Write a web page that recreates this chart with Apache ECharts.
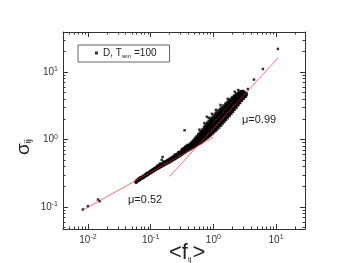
<!DOCTYPE html>
<html><head><meta charset="utf-8">
<script src="https://cdn.jsdelivr.net/npm/echarts@6/dist/echarts.min.js"></script>
<style>html,body{margin:0;padding:0;background:#fff;}#c{width:354px;height:263px;}</style>
</head><body><div id="c"></div>
<script>
// ---- data ----
const xRange = [0.004, 29];
const yRange = [0.0472, 39.2];
const xTickExps = [-2, -1, 0, 1];
const yTickExps = [-1, 0, 1];
const legendLabel = 'D, T{sub|wm} =100';
const fitLow = [[0.0083, 0.090], [1.0, 1.08]];      // mu = 0.52
const fitHigh = [[0.2, 0.283], [10.7, 16.1]];       // mu = 0.99
const fitLowText = 'μ=0.52';
const fitHighText = 'μ=0.99';
// lower (narrow) part of the cloud: [x, [y values]]
const cloudLow = [
  [0.057,[0.235]],[0.059,[0.245,0.228]],[0.061,[0.25,0.238]],[0.063,[0.243,0.262]],
  [0.065,[0.255,0.248]],[0.067,[0.262,0.25,0.27]],[0.069,[0.258,0.275]],[0.071,[0.268,0.262]],
  [0.073,[0.28,0.266,0.274]],[0.075,[0.272,0.285]],[0.077,[0.279,0.292,0.27]],[0.079,[0.288,0.281]],
  [0.081,[0.295,0.284,0.30]],[0.083,[0.29,0.302]],[0.085,[0.298,0.288,0.31]],[0.087,[0.303,0.315]],
  [0.089,[0.308,0.297,0.32]],[0.091,[0.312,0.303]],[0.093,[0.318,0.307,0.326]],[0.096,[0.322,0.313,0.333]],
  [0.099,[0.327,0.318,0.34]],[0.102,[0.333,0.345,0.325]],[0.105,[0.34,0.33,0.352]],[0.108,[0.345,0.358,0.336]],
  [0.111,[0.35,0.34,0.365]],[0.114,[0.356,0.37,0.347]],[0.117,[0.362,0.352,0.377]],[0.120,[0.367,0.384,0.358]],
  [0.124,[0.373,0.362,0.39]],[0.128,[0.38,0.368,0.398,0.41]],[0.132,[0.386,0.374,0.404]],[0.136,[0.392,0.38,0.412]],
  [0.140,[0.398,0.386,0.42,0.44]],[0.145,[0.405,0.392,0.428]],[0.150,[0.412,0.40,0.437,0.50]],
  [0.155,[0.42,0.406,0.445,0.55]],[0.160,[0.427,0.412,0.453,0.47]],[0.165,[0.434,0.42,0.462]],
  [0.170,[0.44,0.427,0.47,0.455]],[0.176,[0.448,0.434,0.478]],[0.182,[0.456,0.44,0.488,0.472]],
  [0.188,[0.464,0.448,0.497]],[0.194,[0.472,0.455,0.506,0.488]],[0.200,[0.48,0.463,0.515]],
  [0.207,[0.49,0.472,0.525,0.505]],[0.214,[0.498,0.48,0.535]],[0.221,[0.507,0.49,0.545,0.525]],
  [0.228,[0.516,0.498,0.556]],[0.236,[0.526,0.507,0.567,0.545]],[0.244,[0.536,0.516,0.578,0.60]],
  [0.252,[0.546,0.526,0.59,0.565]],[0.260,[0.557,0.535,0.602]],[0.268,[0.567,0.545,0.614,0.59]],
  [0.277,[0.578,0.555,0.627,0.65]],[0.286,[0.59,0.566,0.64,0.612]],[0.295,[0.602,0.577,0.654]],
  [0.305,[0.614,0.588,0.668,0.638]],[0.315,[0.627,0.60,0.683,0.72]],[0.325,[0.64,0.612,0.698,0.665]],
  [0.336,[0.654,0.625,0.714,0.75]],[0.347,[0.668,0.638,0.73,0.695]],[0.358,[0.682,0.65,0.747,0.79]],
  [0.370,[0.697,0.664,0.765,0.728]],[0.382,[0.712,0.678,0.783,0.83]],[0.395,[0.728,0.692,0.80,0.76]]
];
// upper (wide) part of the cloud
const cloudHigh = [
  [0.41,[0.70,0.74,0.785,0.83]],[0.425,[0.73,0.78,0.825,0.87,0.755]],[0.44,[0.72,0.77,0.82,0.87]],
  [0.455,[0.76,0.815,0.87,0.925,0.79]],[0.47,[0.75,0.81,0.865,0.925]],[0.485,[0.795,0.86,0.92,0.985,0.83]],
  [0.50,[0.78,0.85,0.92,0.995]],[0.515,[0.83,0.905,0.985,1.06,0.87]],[0.53,[0.805,0.885,0.965,1.05]],
  [0.545,[0.86,0.95,1.04,1.125,0.90]],[0.56,[0.835,0.925,1.02,1.11]],[0.575,[0.90,0.995,1.10,1.19,0.945]],
  [0.59,[0.86,0.965,1.07,1.175]],[0.605,[0.93,1.04,1.15,1.26,0.985]],[0.62,[0.885,1.005,1.12,1.24]],
  [0.635,[0.96,1.085,1.21,1.33,1.02]],[0.65,[0.91,1.04,1.17,1.30]],[0.67,[1.00,1.14,1.28,1.41,1.07]],
  [0.69,[0.95,1.10,1.25,1.40]],[0.71,[1.05,1.21,1.38,1.54,1.13]],[0.73,[0.99,1.16,1.33,1.51]],
  [0.75,[1.10,1.29,1.47,1.65,1.20]],[0.77,[1.03,1.23,1.42,1.62]],[0.79,[1.15,1.36,1.57,1.77,1.25]],
  [0.815,[1.07,1.29,1.50,1.72]],[0.84,[1.20,1.43,1.67,1.89,1.31]],[0.865,[1.11,1.35,1.59,1.83]],
  [0.89,[1.26,1.51,1.76,2.00,1.38]],[0.915,[1.16,1.42,1.68,1.94]],[0.94,[1.32,1.59,1.86,2.12,1.45]],
  [0.97,[1.21,1.50,1.78,2.06]],[1.00,[1.39,1.69,1.98,2.27,1.53]],[1.03,[1.28,1.59,1.89,2.19]],
  [1.06,[1.46,1.78,2.10,2.41,1.62]],[1.09,[1.34,1.67,2.00,2.32]],[1.12,[1.53,1.87,2.21,2.55,1.70]],
  [1.16,[1.41,1.76,2.11,2.46]],[1.20,[1.62,1.99,2.35,2.70,1.80]],[1.24,[1.50,1.87,2.23,2.60]],
  [1.28,[1.73,2.11,2.49,2.86,1.92]],[1.32,[1.60,1.99,2.37,2.76]],[1.36,[1.84,2.24,2.63,3.02,2.04]],
  [1.40,[1.70,2.10,2.50,2.90]],[1.45,[1.96,2.38,2.79,3.20,2.17]],[1.50,[1.82,2.24,2.66,3.08]],
  [1.55,[2.10,2.54,2.97,3.39,2.32]],[1.60,[1.95,2.39,2.83,3.27]],[1.65,[2.23,2.69,3.14,3.58,2.46]],
  [1.70,[2.08,2.54,3.00,3.46]],[1.76,[2.38,2.86,3.34,3.80,2.62]],[1.82,[2.23,2.71,3.19,3.67]],
  [1.88,[2.55,3.05,3.54,4.02,2.80]],[1.94,[2.40,2.90,3.40,3.90]],[2.00,[2.75,3.26,3.77,4.27,3.00]],
  [2.07,[2.57,3.08,3.59,4.10]],[2.14,[2.92,3.44,3.96,4.47,3.18]],[2.21,[2.76,3.28,3.80,4.31]],
  [2.28,[3.12,3.65,4.17,4.68,3.38]],[2.36,[2.97,3.49,4.00,4.52]],[2.44,[3.35,3.87,4.38,4.88,3.60]],
  [2.52,[3.22,3.72,4.22,4.72]],[2.60,[3.60,4.10,4.60,5.08,3.85]],[2.69,[3.48,3.96,4.44,4.92]],
  [2.78,[3.85,4.30,4.76,5.20,4.05]],[2.88,[3.76,4.18,4.60,5.02]],[2.98,[4.10,4.50,4.90,5.25]],
  [3.08,[4.05,4.40,4.75,5.10]],[3.18,[4.35,4.65,4.95]],[3.28,[4.30,4.60,4.90]],[3.40,[4.55,4.80]]
];
// dense core of the upper part
const cloudCore = [
  [0.4175,[0.72,0.76,0.80]],[0.4475,[0.74,0.79,0.845]],[0.4625,[0.755,0.81,0.88]],[0.4775,[0.77,0.83,0.90]],
  [0.4925,[0.785,0.85,0.93]],[0.5075,[0.80,0.87,0.95]],[0.5225,[0.815,0.89,0.98]],[0.5375,[0.83,0.91,1.00]],
  [0.5525,[0.845,0.935,1.03]],[0.5675,[0.86,0.955,1.06]],[0.5825,[0.875,0.98,1.09]],[0.5975,[0.89,1.00,1.12]],
  [0.6125,[0.905,1.02,1.15]],[0.6275,[0.92,1.045,1.18]],[0.6425,[0.935,1.07,1.21]],[0.66,[0.95,1.09,1.24]],
  [0.68,[0.97,1.12,1.28]],[0.70,[0.99,1.15,1.32]],[0.72,[1.01,1.18,1.36]],[0.74,[1.03,1.21,1.40]],
  [0.76,[1.05,1.24,1.44]],[0.78,[1.07,1.27,1.48]],[0.80,[1.09,1.30,1.52]],[0.83,[1.12,1.35,1.58]],
  [0.855,[1.15,1.39,1.63]],[0.88,[1.18,1.43,1.69]],[0.905,[1.21,1.47,1.74]],[0.93,[1.24,1.52,1.80]],
  [0.955,[1.27,1.56,1.86]],[0.985,[1.31,1.61,1.92]],[1.015,[1.35,1.66,1.98]],[1.045,[1.39,1.71,2.04]],
  [1.075,[1.43,1.76,2.10]],[1.105,[1.47,1.81,2.16]],[1.14,[1.51,1.87,2.23]],[1.18,[1.56,1.93,2.31]],
  [1.22,[1.61,2.00,2.39]],[1.26,[1.66,2.06,2.47]],[1.30,[1.71,2.13,2.55]],[1.34,[1.76,2.19,2.63]],
  [1.38,[1.81,2.26,2.71]],[1.425,[1.87,2.33,2.80]],[1.475,[1.93,2.41,2.90]],[1.525,[2.00,2.49,3.00]],
  [1.575,[2.07,2.57,3.10]],[1.625,[2.14,2.66,3.20]],[1.675,[2.21,2.75,3.30]],[1.73,[2.29,2.84,3.40]],
  [1.79,[2.37,2.94,3.52]],[1.85,[2.46,3.04,3.64]],[1.91,[2.55,3.15,3.76]],[1.97,[2.65,3.26,3.88]],
  [2.035,[2.75,3.37,4.00]],[2.105,[2.86,3.49,4.12]],[2.175,[2.97,3.61,4.24]],[2.245,[3.08,3.73,4.36]],
  [2.32,[3.20,3.85,4.48]],[2.40,[3.33,3.98,4.60]],[2.48,[3.46,4.10,4.72]],[2.56,[3.60,4.23,4.84]],
  [2.645,[3.74,4.36,4.95]],[2.735,[3.88,4.48,5.05]],[2.83,[4.00,4.58,5.12]],[2.93,[4.15,4.68,5.15]],
  [3.03,[4.30,4.80]],[3.13,[4.45,4.90]],[3.23,[4.60]]
];
const outliers = [[0.0083,0.092],[0.010,0.103],[0.0145,0.129],[0.0154,0.122],
  [0.348,1.37],[0.79,2.17],[0.60,1.40],[0.72,1.75],[0.85,2.10],[0.95,2.40],[1.10,2.75],
  [1.30,3.25],[1.70,4.00],[2.20,5.10],[2.50,5.40],[3.55,5.60],
  [4.45,7.74],[6.18,11.1],[10.7,22.0]];

// ---- build ----
const L = Math.log10;
const pts = [];
cloudLow.concat(cloudHigh, cloudCore).forEach(([x, ys]) => ys.forEach(y => pts.push([L(x), L(y)])));
outliers.forEach(([x, y]) => pts.push([L(x), L(y)]));
const line = d => d.map(([x, y]) => [L(x), L(y)]);

function minorVals(r) {
  const out = [];
  for (let n = -3; n <= 2; n++) for (let k = 2; k <= 9; k++) {
    const v = n + L(k);
    if (v > L(r[0]) && v < L(r[1])) out.push(v);
  }
  return out;
}
const FF = 'Arial, Liberation Sans, sans-serif';
const rich = { b: { fontSize: 10, color: '#333', fontFamily: FF },
               s: { fontSize: 7, color: '#333', fontFamily: FF, verticalAlign: 'top', padding: [0, 0, 5, 0] } };
const fmt = v => '{b|10}{s|' + Math.round(v) + '}';
const lineStyle = { color: '#333', width: 1 };

function axes(dim, r, exps) {
  const pos = dim === 'x' ? ['bottom', 'top'] : ['left', 'right'];
  const base = { type: 'value', min: L(r[0]), max: L(r[1]), splitLine: { show: false }, gridIndex: 0 };
  return [
    Object.assign({}, base, { position: pos[0], axisLine: { show: true, onZero: false, lineStyle },
      axisTick: { show: true, inside: true, length: 5, lineStyle, customValues: exps },
      axisLabel: { show: true, customValues: exps, formatter: fmt, rich, margin: 5 } }),
    Object.assign({}, base, { position: pos[0], axisLine: { show: false, onZero: false },
      axisTick: { show: true, inside: true, length: 2.5, lineStyle, customValues: minorVals(r) },
      axisLabel: { show: false } }),
    Object.assign({}, base, { position: pos[1], axisLine: { show: true, onZero: false, lineStyle },
      axisTick: { show: true, inside: true, length: 5, lineStyle, customValues: exps },
      axisLabel: { show: false } }),
    Object.assign({}, base, { position: pos[1], axisLine: { show: false, onZero: false },
      axisTick: { show: true, inside: true, length: 2.5, lineStyle, customValues: minorVals(r) },
      axisLabel: { show: false } })
  ];
}

const chart = echarts.init(document.getElementById('c'), null, { renderer: 'canvas' });
chart.setOption({
  animation: false,
  backgroundColor: '#fff',
  grid: { left: 63, right: 49, top: 32, bottom: 34, containLabel: false },
  xAxis: axes('x', xRange, xTickExps),
  yAxis: axes('y', yRange, yTickExps),
  legend: {
    left: 78, top: 45, orient: 'horizontal',
    data: [{ name: 'D', icon: 'rect' }],
    itemWidth: 3, itemHeight: 3, itemGap: 5,
    borderColor: '#666', borderWidth: 1, borderRadius: 0,
    padding: [3, 13, 3, 17],
    formatter: () => legendLabel,
    textStyle: { fontSize: 10, color: '#222', fontFamily: FF,
      rich: { sub: { fontSize: 6, color: '#222', verticalAlign: 'bottom', padding: [6, 0, 0, 0] } } }
  },
  series: [
    { name: 'D', type: 'scatter', symbol: 'rect', symbolSize: 2.5, itemStyle: { color: '#000' },
      data: pts, xAxisIndex: 0, yAxisIndex: 0, z: 2 },
    { name: 'fitLow', type: 'line', data: line(fitLow), symbol: 'none',
      lineStyle: { color: '#ff2020', width: 0.8, opacity: 0.8 }, z: 3 },
    { name: 'fitHigh', type: 'line', data: line(fitHigh), symbol: 'none',
      lineStyle: { color: '#ff2020', width: 0.8, opacity: 0.8 }, z: 3 }
  ],
  graphic: [
    { type: 'text', left: 242, top: 114, style: { text: fitHighText, fontSize: 11, fill: '#222', fontFamily: FF } },
    { type: 'text', left: 128, top: 194, style: { text: fitLowText, fontSize: 11, fill: '#222', fontFamily: FF } },
    { type: 'text', left: 169, top: 242, style: { text: '<f{sub|ij}{g|>}', fontSize: 22, fill: '#222', fontFamily: FF,
        rich: { sub: { fontSize: 8, fill: '#222', fontFamily: FF, verticalAlign: 'bottom', padding: [12, 0, 0, 0] },
                g: { fontSize: 22, fill: '#222', fontFamily: FF, padding: [0, 0, 0, 1] } } } },
    { type: 'text', x: 14, y: 155, rotation: Math.PI / 2,
      style: { text: 'σ{sub|ij}', fontSize: 19, fill: '#222', fontFamily: FF,
        rich: { sub: { fontSize: 9, fill: '#222', fontFamily: FF, verticalAlign: 'bottom', padding: [10, 0, 0, 0] } } } }
  ]
});
</script></body></html>
